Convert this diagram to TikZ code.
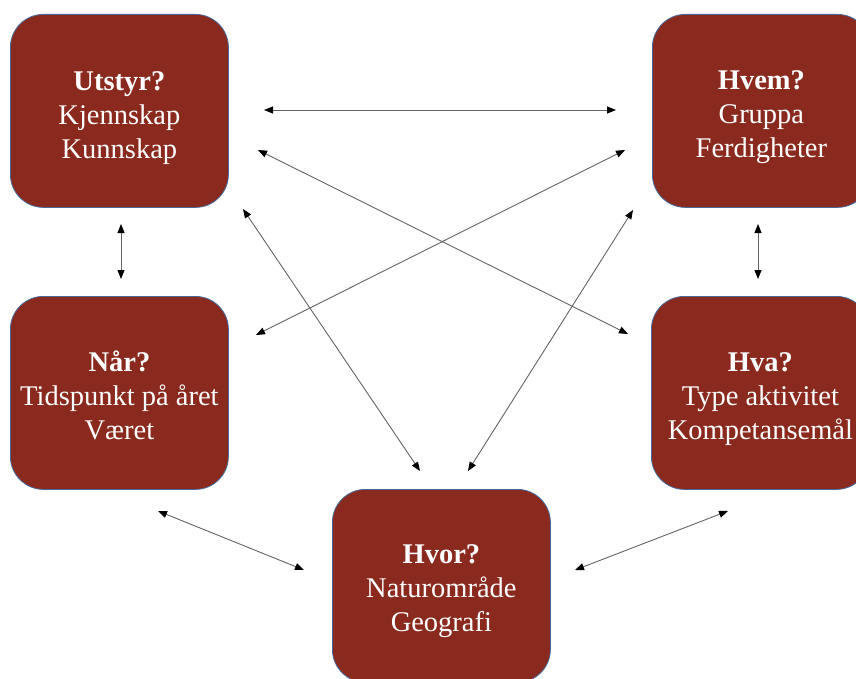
\documentclass[tikz,border=0pt]{standalone}
\usepackage{fontspec}
\setmainfont{Liberation Serif}
\usetikzlibrary{arrows.meta}
\definecolor{boxred}{RGB}{138,42,31}
\definecolor{boxline}{RGB}{70,105,155}
\definecolor{arrowgray}{RGB}{100,100,100}
\tikzset{
  qbox/.style={draw=boxline, line width=0.8pt, fill=boxred, rounded corners=33pt,
    minimum width=218pt, minimum height=193pt, inner sep=0pt, anchor=north west},
  qtext/.style={text=white, align=center, inner sep=0pt,
    font=\fontsize{28.5pt}{34pt}\selectfont},
  link/.style={draw=arrowgray, line width=0.9pt,
    {Triangle[length=9pt,width=7pt,color=black]}-{Triangle[length=9pt,width=7pt,color=black]}}
}
\begin{document}
\begin{tikzpicture}[x=1pt,y=-1pt]
\useasboundingbox (0,0) rectangle (856,679);
\clip (0,0) rectangle (856,679);
\fill[white] (0,0) rectangle (856,679);
\node[qbox] (utstyr) at (10,14) {};
\node[qbox] (hvem) at (652,14) {};
\node[qbox] (naar) at (10,296) {};
\node[qbox] (hva) at (651,296) {};
\node[qbox] (hvor) at (332,489) {};
\node[qtext] (utstyrT) at ([yshift=-7pt]utstyr.center) {\textbf{Utstyr?}\\Kjennskap\\Kunnskap};
\node[qtext] (hvemT) at ([yshift=-6pt]hvem.center) {\textbf{Hvem?}\\Gruppa\\Ferdigheter};
\node[qtext] (naarT) at ([yshift=-2.5pt]naar.center) {\textbf{Når?}\\Tidspunkt på året\\Været};
\node[qtext] (hvaT) at ([yshift=-6.5pt]hva.center) {\textbf{Hva?}\\Type aktivitet\\Kompetansemål};
\node[qtext] (hvorT) at ([yshift=-5pt]hvor.center) {\textbf{Hvor?}\\Naturområde\\Geografi};
% connector end points
\coordinate (a1) at (264,110); \coordinate (b1) at (616,110);
\coordinate (a2) at (258,150); \coordinate (b2) at (628,334);
\coordinate (a3) at (243,209); \coordinate (b3) at (420,471);
\coordinate (a4) at (625,150); \coordinate (b4) at (256,335);
\coordinate (a5) at (633,210); \coordinate (b5) at (468,471);
\coordinate (a6) at (121,224); \coordinate (b6) at (121,279);
\coordinate (a7) at (758,224); \coordinate (b7) at (758,279);
\coordinate (a8) at (158,511); \coordinate (b8) at (304,570);
\coordinate (a9) at (728,511); \coordinate (b9) at (575,570);
\draw[link] (a1) -- (b1);
\draw[link] (a2) -- (b2);
\draw[link] (a3) -- (b3);
\draw[link] (a4) -- (b4);
\draw[link] (a5) -- (b5);
\draw[link] (a6) -- (b6);
\draw[link] (a7) -- (b7);
\draw[link] (a8) -- (b8);
\draw[link] (a9) -- (b9);
\end{tikzpicture}
\end{document}
